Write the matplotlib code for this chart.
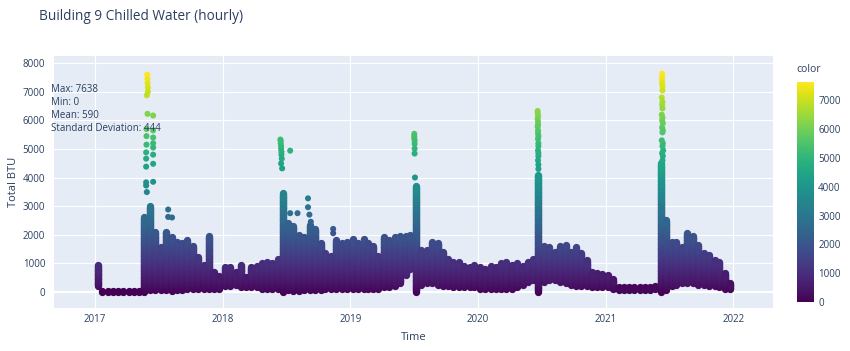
import numpy as np
import pandas as pd
import matplotlib
matplotlib.use("Agg")
import matplotlib.pyplot as plt
import matplotlib.dates as mdates
from matplotlib.collections import LineCollection
from matplotlib.colors import Normalize

plt.rcParams['font.family'] = ['Open Sans', 'DejaVu Sans']

# half-month bins (1st / 15th), Jan 2017 - Dec 2021, envelope
bin_start = pd.date_range("2017-01-01", "2021-12-16", freq="SMS")

high = [
    # 2017
    950, 30, 30, 30, 30, 30, 30, 30, 30, 2600, 3000, 2100,
    1550, 2100, 1900, 1750, 1700, 1800, 1600, 1200, 950, 1950, 700, 550,
    # 2018
    870, 870, 700, 940, 520, 850, 900, 1000, 1050, 1000, 1150, 3450,
    2400, 2300, 2000, 1900, 2350, 2200, 1700, 1350, 1250, 1800, 1700, 1750,
    # 2019
    1850, 1700, 1850, 1700, 1600, 1250, 1900, 1800, 1900, 1950, 1950, 2000,
    3700, 1450, 1450, 1750, 1700, 1400, 1150, 1050, 1050, 900, 880, 950,
    # 2020
    850, 800, 900, 850, 1000, 1050, 950, 1000, 900, 1050, 1150, 4100,
    1600, 1550, 1400, 1600, 1650, 1400, 1550, 1350, 1100, 700, 650, 620,
    # 2021
    600, 450, 150, 150, 150, 160, 160, 170, 180, 200, 4500, 2500,
    1750, 1750, 1550, 2050, 1950, 1650, 1350, 1300, 1100, 1050, 650, 300,
]

low = [
    # 2017
    200, 0, 0, 0, 0, 0, 0, 0, 0, 0, 50, 50,
    50, 50, 30, 50, 50, 80, 80, 80, 100, 100, 100, 100,
    # 2018
    200, 200, 250, 150, 150, 150, 150, 100, 100, 80, 80, 0,
    50, 30, 30, 50, 50, 50, 50, 80, 80, 100, 100, 100,
    # 2019
    100, 100, 100, 100, 80, 100, 150, 150, 200, 300, 600, 800,
    0, 250, 300, 300, 250, 200, 200, 150, 150, 150, 150, 150,
    # 2020
    100, 100, 80, 80, 100, 100, 100, 150, 250, 350, 400, 0,
    350, 400, 400, 350, 300, 250, 200, 200, 200, 150, 150, 150,
    # 2021
    150, 100, 60, 60, 60, 60, 70, 70, 70, 80, 0, 50,
    200, 250, 300, 300, 300, 250, 250, 200, 200, 150, 100, 80,
]

# isolated readings above the dense band (summer peaks)
spike_dates = [
    "2017-05-30", "2017-05-31", "2017-05-31", "2017-06-01", "2017-06-01", "2017-05-29",
    "2017-05-31", "2017-06-16", "2017-05-28", "2017-06-16", "2017-05-28", "2017-06-16",
    "2017-06-16", "2017-05-28", "2017-06-16", "2017-05-27", "2017-06-16", "2017-05-27",
    "2017-06-16", "2017-05-27", "2017-05-27", "2017-06-16", "2017-05-27", "2017-05-29",
    "2017-07-29", "2017-07-29", "2017-08-09",
    "2018-06-15", "2018-06-16", "2018-06-16", "2018-06-17", "2018-06-17", "2018-06-18",
    "2018-06-18", "2018-06-19", "2018-06-17", "2018-06-20", "2018-07-13", "2018-07-13",
    "2018-08-03", "2018-09-02", "2018-09-02", "2018-09-06", "2018-09-10", "2018-11-13",
    "2018-11-13",
    "2019-07-03", "2019-07-03", "2019-07-03", "2019-07-04", "2019-07-04", "2019-07-04",
    "2019-07-04", "2019-07-05",
    "2020-06-20", "2020-06-20", "2020-06-21", "2020-06-20", "2020-06-21", "2020-06-21",
    "2020-06-20", "2020-06-21", "2020-06-21", "2020-06-22", "2020-06-21", "2020-06-22",
    "2020-06-22", "2020-06-21", "2020-06-22", "2020-06-22", "2020-06-21", "2020-06-22",
    "2020-06-22",
    "2021-06-11", "2021-06-11", "2021-06-11", "2021-06-11", "2021-06-12", "2021-06-12",
    "2021-06-10", "2021-06-12", "2021-06-11", "2021-06-12", "2021-06-10", "2021-06-12",
    "2021-06-11", "2021-06-13", "2021-06-11", "2021-06-13", "2021-06-12", "2021-06-10",
    "2021-06-13", "2021-06-12", "2021-06-14", "2021-06-11", "2021-06-13", "2021-06-12",
]
spike_vals = [
    7600, 7450, 7300, 7150, 7000, 6880,
    6230, 6170, 5700, 5650, 5450, 5400,
    5200, 5150, 5050, 4880, 4800, 4660,
    4480, 4380, 3830, 3850, 3720, 3490,
    2880, 2620, 2600,
    5330, 5280, 5200, 5100, 5000, 4900,
    4800, 4660, 4490, 4320, 4940, 2750,
    2750, 3270, 2960, 2700, 2450, 2200,
    2050,
    5530, 5450, 5380, 5300, 5180, 5010,
    4840, 4000,
    6330, 6250, 6150, 6050, 5950, 5850,
    5780, 5650, 5550, 5450, 5350, 5200,
    5100, 4950, 4850, 4750, 4600, 4450,
    4300,
    7638, 7500, 7400, 7300, 7200, 7050,
    6800, 6650, 6550, 6420, 6200, 6100,
    6000, 5900, 5750, 5650, 5580, 5300,
    5200, 5100, 4950, 4850, 4750, 4600,
]

stat_names = ["Max", "Min", "Mean", "Standard Deviation"]
stat_values = [7638, 0, 590, 444]

text_col = '#2a3f5f'
W, H = 850, 351

fig = plt.figure(figsize=(8.5, 3.51), dpi=100)
ax = fig.add_axes([53.5 / W, 1 - 308 / H, (773.3 - 53.5) / W, (308 - 56) / H])
ax.set_facecolor('#E5ECF6')
for s in ax.spines.values():
    s.set_visible(False)

norm = Normalize(0, 7638)

# each half-month range as a vertical stroke, shaded by value
xnum = mdates.date2num(bin_start + pd.Timedelta(days=7))
segs, mids = [], []
for x, lo, hi in zip(xnum, low, high):
    edges = np.linspace(lo, hi, max(2, int((hi - lo) / 60) + 2))
    for a, b in zip(edges[:-1], edges[1:]):
        segs.append([(x, a), (x, b)])
        mids.append((a + b) / 2)
lc = LineCollection(segs, cmap='viridis', norm=norm, linewidths=5.3,
                    capstyle='round', zorder=2)
lc.set_array(np.array(mids))
ax.add_collection(lc)

ax.scatter(mdates.date2num(pd.to_datetime(spike_dates)), spike_vals, c=spike_vals,
           cmap='viridis', norm=norm, s=19, linewidths=0, zorder=3)

ax.set_xlim(mdates.date2num(pd.Timestamp("2016-09-04")),
            mdates.date2num(pd.Timestamp("2022-04-25")))
ax.set_ylim(-570, 8255)
ax.xaxis.set_major_locator(mdates.YearLocator())
ax.xaxis.set_major_formatter(mdates.DateFormatter('%Y'))
ax.set_yticks(range(0, 8001, 1000))
ax.grid(True, color='white', lw=0.8, zorder=0)
ax.set_axisbelow(True)
ax.axhline(0, color='white', lw=1.6, zorder=1)
ax.tick_params(length=0, labelsize=7, colors=text_col)
ax.tick_params(axis='y', pad=6)
ax.tick_params(axis='x', pad=4)
ax.set_xlabel('Time', fontsize=8, color=text_col, labelpad=5)
ax.set_ylabel('Total BTU', fontsize=8, color=text_col, labelpad=3)

# stats annotation
lines = [f"{n}: {v}" for n, v in zip(stat_names, stat_values)]
fig.text(51 / W, 1 - 109 / H, "\n".join(lines), fontsize=7, color=text_col,
         ha='left', va='center', linespacing=1.25)

fig.text(39 / W, 1 - 16 / H, 'Building 9 Chilled Water (hourly)', fontsize=9.8,
         color=text_col, ha='left', va='center')

cax = fig.add_axes([797 / W, 1 - 302 / H, 17 / W, 220 / H])
cb = fig.colorbar(lc, cax=cax)
cb.outline.set_visible(False)
cb.set_ticks(range(0, 7001, 1000))
cb.ax.tick_params(length=0, labelsize=7, colors=text_col, pad=3)
fig.text(796 / W, 1 - 70 / H, 'color', fontsize=7.5, color=text_col,
         ha='left', va='center')

fig.savefig('out.png', dpi=100)
